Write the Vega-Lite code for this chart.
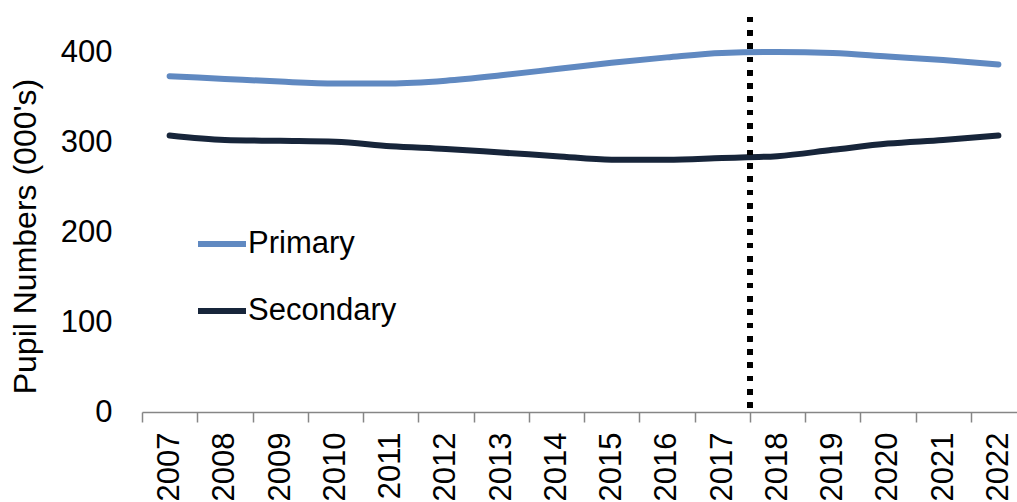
{
  "$schema": "https://vega.github.io/schema/vega-lite/v6.json",
  "width": 884,
  "height": 404,
  "autosize": {"type": "none"},
  "padding": {"left": 142, "top": 8, "right": -9, "bottom": 90},
  "background": "white",
  "config": {
    "view": {"stroke": null},
    "font": "Liberation Sans"
  },
  "data": {
    "values": [
      {"year": "2007", "series": "Primary", "value": 374},
      {"year": "2008", "series": "Primary", "value": 371},
      {"year": "2009", "series": "Primary", "value": 368},
      {"year": "2010", "series": "Primary", "value": 366},
      {"year": "2011", "series": "Primary", "value": 366},
      {"year": "2012", "series": "Primary", "value": 369},
      {"year": "2013", "series": "Primary", "value": 375},
      {"year": "2014", "series": "Primary", "value": 382},
      {"year": "2015", "series": "Primary", "value": 389},
      {"year": "2016", "series": "Primary", "value": 395},
      {"year": "2017", "series": "Primary", "value": 400},
      {"year": "2018", "series": "Primary", "value": 401},
      {"year": "2019", "series": "Primary", "value": 400},
      {"year": "2020", "series": "Primary", "value": 396},
      {"year": "2021", "series": "Primary", "value": 392},
      {"year": "2022", "series": "Primary", "value": 387},
      {"year": "2007", "series": "Secondary", "value": 308},
      {"year": "2008", "series": "Secondary", "value": 303},
      {"year": "2009", "series": "Secondary", "value": 302},
      {"year": "2010", "series": "Secondary", "value": 301},
      {"year": "2011", "series": "Secondary", "value": 296},
      {"year": "2012", "series": "Secondary", "value": 293},
      {"year": "2013", "series": "Secondary", "value": 289},
      {"year": "2014", "series": "Secondary", "value": 285},
      {"year": "2015", "series": "Secondary", "value": 281},
      {"year": "2016", "series": "Secondary", "value": 281},
      {"year": "2017", "series": "Secondary", "value": 283},
      {"year": "2018", "series": "Secondary", "value": 285},
      {"year": "2019", "series": "Secondary", "value": 292},
      {"year": "2020", "series": "Secondary", "value": 299},
      {"year": "2021", "series": "Secondary", "value": 303},
      {"year": "2022", "series": "Secondary", "value": 308}
    ]
  },
  "layer": [
    {
      "mark": {"type": "line", "strokeWidth": 6, "interpolate": "monotone", "strokeCap": "round"},
      "encoding": {
        "x": {
          "field": "year",
          "type": "ordinal",
          "scale": {"type": "band", "paddingInner": 0, "paddingOuter": 0},
          "axis": {
            "title": null,
            "labelAngle": -90,
            "labelAlign": "right",
            "labelBaseline": "middle",
            "labelFontSize": 31,
            "labelColor": "black",
            "labelPadding": 10,
            "tickBand": "extent",
            "tickSize": 10,
            "tickColor": "#868686",
            "domainColor": "#868686",
            "tickWidth": 1.5,
            "domainWidth": 1.5,
            "grid": false
          }
        },
        "y": {
          "field": "value",
          "type": "quantitative",
          "scale": {"domain": [0, 450], "nice": false},
          "axis": {
            "title": "Pupil Numbers (000's)",
            "titleFontSize": 32,
            "titleFontWeight": "normal",
            "titleColor": "black",
            "titleX": -117,
            "titleY": 228,
            "titleAlign": "center",
            "titleBaseline": "middle",
            "titleAngle": -90,
            "values": [0, 100, 200, 300, 400],
            "labelFontSize": 31,
            "labelColor": "black",
            "labelPadding": 30,
            "ticks": false,
            "domain": false,
            "grid": false
          }
        },
        "color": {
          "field": "series",
          "type": "nominal",
          "scale": {"domain": ["Primary", "Secondary"], "range": ["#6089C1", "#17253A"]},
          "legend": {
            "title": null,
            "orient": "none",
            "legendX": 53,
            "legendY": 209,
            "symbolType": "stroke",
            "symbolSize": 2304,
            "symbolStrokeWidth": 6,
            "labelFontSize": 31,
            "labelColor": "black",
            "labelOffset": -1,
            "rowPadding": 25
          }
        }
      }
    },
    {
      "mark": {"type": "rule", "color": "black", "strokeWidth": 5, "strokeDash": [5, 8.3]},
      "encoding": {
        "x": {"datum": "2018", "type": "ordinal", "bandPosition": 0},
        "y": {"datum": 440, "type": "quantitative"},
        "y2": {"datum": 0}
      }
    }
  ]
}
